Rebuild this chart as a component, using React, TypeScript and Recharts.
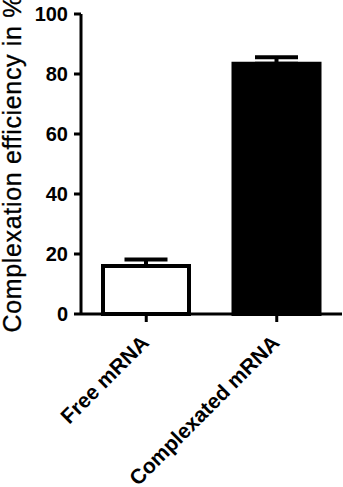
import { BarChart, Bar, XAxis, YAxis, ErrorBar, Cell } from 'recharts'

const groups = ['Free mRNA', 'Complexated mRNA']
const efficiency = [16.0, 83.4]
const efficiencySd = [2.2, 2.2]
const barColors = ['#ffffff', '#000000']
const yTicks = [0, 20, 40, 60, 80, 100]

const data = groups.map((name, i) => ({
  name,
  value: efficiency[i],
  err: [0, efficiencySd[i]],
}))

const FONT = '"Liberation Sans", Arial, Helvetica, sans-serif'

function CategoryTick({ x, y, payload }: any) {
  return (
    <text
      x={x + 4}
      y={y + 20}
      transform={`rotate(-45, ${x + 4}, ${y + 20})`}
      textAnchor="end"
      fontFamily={FONT}
      fontWeight="bold"
      fontSize={21}
      fill="#000"
    >
      {payload.value}
    </text>
  )
}

function YLabel({ viewBox }: any) {
  const cy = viewBox.y + viewBox.height / 2
  const x = 21
  return (
    <text
      x={x}
      y={cy}
      transform={`rotate(-90, ${x}, ${cy})`}
      textAnchor="middle"
      fontFamily={FONT}
      fontSize={25}
      textLength={337}
      lengthAdjust="spacing"
      stroke="#000"
      strokeWidth={0.3}
      fill="#000"
    >
      Complexation efficiency in %
    </text>
  )
}

export default function App() {
  return (
    <div style={{ position: 'absolute', left: 0, top: 0, background: '#fff' }}>
      <BarChart width={343} height={487} data={data} margin={{ top: 14, right: 1, left: 0, bottom: 0 }}>
        <XAxis
          dataKey="name"
          height={173}
          interval={0}
          axisLine={{ stroke: '#000', strokeWidth: 3 }}
          tickLine={{ stroke: '#000', strokeWidth: 3 }}
          tickSize={8}
          tick={<CategoryTick />}
        />
        <YAxis
          width={81}
          domain={[0, 100]}
          ticks={yTicks}
          interval={0}
          axisLine={{ stroke: '#000', strokeWidth: 3 }}
          tickLine={{ stroke: '#000', strokeWidth: 3 }}
          tickSize={7}
          tickMargin={6}
          tick={{ fill: '#000', fontFamily: FONT, fontWeight: 'bold', fontSize: 20 }}
          label={{ content: <YLabel /> }}
        />
        <Bar dataKey="value" barSize={86} stroke="#000" strokeWidth={4} isAnimationActive={false}>
          {data.map((d, i) => (
            <Cell key={d.name} fill={barColors[i]} stroke="#000" strokeWidth={4} />
          ))}
          <ErrorBar dataKey="err" width={21.5} stroke="#000" strokeWidth={4} isAnimationActive={false} />
        </Bar>
      </BarChart>
    </div>
  )
}
